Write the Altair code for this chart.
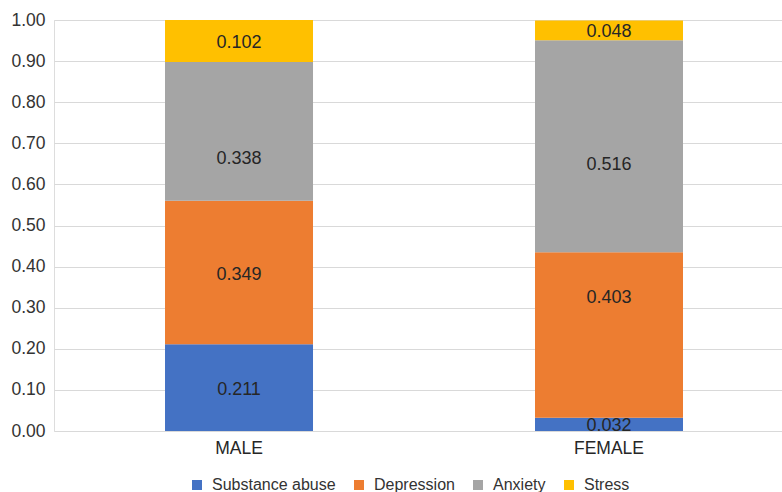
import altair as alt
import pandas as pd

genders = ["MALE", "FEMALE"]
categories = ["Substance abuse", "Depression", "Anxiety", "Stress"]
male_values = [0.211, 0.349, 0.338, 0.102]
female_values = [0.032, 0.403, 0.516, 0.048]
colors = ["#4472C4", "#ED7D31", "#A5A5A5", "#FFC000"]

# hand-placed label nudges (pixels, positive = down), as laid out in the chart
male_label_nudge = [0, 0, 26, 0]
female_label_nudge = [0, -39, 17, 0]

PLOT_H = 411
PLOT_W = 728

rows = []
for gender, vals, nudges in zip(genders, [male_values, female_values],
                                [male_label_nudge, female_label_nudge]):
    for i, (cat, v, n) in enumerate(zip(categories, vals, nudges)):
        rows.append({"gender": gender, "category": cat, "value": v, "order": i, "nudge": n})
df = pd.DataFrame(rows)

FONT = "Liberation Sans"

x_scale = alt.Scale(paddingInner=0.6, paddingOuter=0.2838, align=0.5286)

x_enc = alt.X(
    "gender:N",
    sort=genders,
    scale=x_scale,
    axis=alt.Axis(title=None, labelAngle=0, labelFontSize=17.5, labelColor="#262626",
                  labelFont=FONT, ticks=False, domain=False, labelPadding=8),
)

base = alt.Chart(df).transform_stack(
    stack="value", groupby=["gender"], sort=[alt.SortField("order")], as_=["y0", "y1"]
).transform_calculate(
    mid=f"(datum.y0 + datum.y1) / 2 - datum.nudge / {PLOT_H}"
)

bars = base.mark_bar().encode(
    x=x_enc,
    y=alt.Y("y0:Q", scale=alt.Scale(domain=[0, 1], nice=False),
            axis=alt.Axis(title=None, format=".2f", values=[i / 10 for i in range(11)],
                          labelFontSize=17.5, labelColor="#333333", labelFont=FONT,
                          ticks=False, domain=False, labelPadding=9,
                          gridColor="#D9D9D9", gridWidth=1)),
    y2="y1:Q",
    color=alt.Color("category:N", sort=categories,
                    scale=alt.Scale(domain=categories, range=colors),
                    legend=alt.Legend(title=None, orient="none", direction="horizontal",
                                      legendX=135, legendY=457, symbolType="square",
                                      symbolSize=100, symbolStrokeWidth=0,
                                      labelFontSize=16, labelFont=FONT, labelColor="#333333",
                                      columnPadding=15, labelOffset=7)),
    order=alt.Order("order:Q"),
)

labels = base.mark_text(fontSize=18, font=FONT, color="#262626", dy=2).encode(
    x=alt.X("gender:N", sort=genders, scale=x_scale),
    y=alt.Y("mid:Q"),
    text=alt.Text("value:Q", format=".3f"),
)

chart = alt.layer(bars, labels).properties(
    width=PLOT_W, height=PLOT_H,
    autosize=alt.AutoSizeParams(type="none"),
    padding={"left": 54, "top": 20, "right": 0, "bottom": 61},
).configure_view(stroke=None).configure(background="white")

chart.save("out.html", embed_options={"renderer": "svg", "actions": False})
